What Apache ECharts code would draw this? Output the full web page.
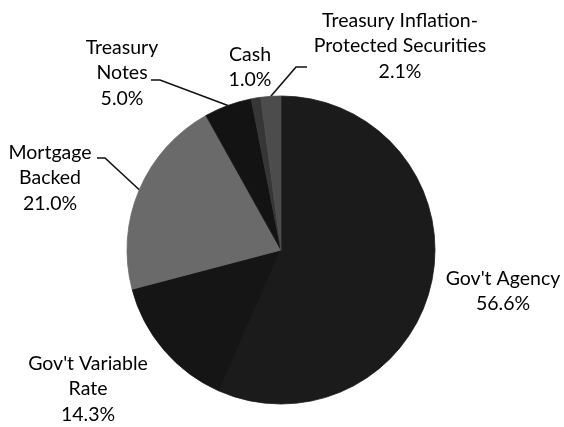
<!DOCTYPE html>
<html>
<head>
<meta charset="utf-8">
<script src="https://cdn.jsdelivr.net/npm/echarts@6/dist/echarts.min.js"></script>
<style>
  html, body { margin: 0; padding: 0; background: #fff; }
  #chart { width: 564px; height: 427px; }
</style>
</head>
<body>
<div id="chart"></div>
<script>
// Portfolio allocation by security type (percent of total)
const categories = [
  "Gov't Agency",
  "Gov't Variable\nRate",
  'Mortgage\nBacked',
  'Treasury\nNotes',
  'Cash',
  'Treasury Inflation-\nProtected Securities'
];
const shares = [56.6, 14.3, 21.0, 5.0, 1.0, 2.1];
const sliceColors = ['#1b1b1b', '#151515', '#6a6a6a', '#131313', '#363636', '#4c4c4c'];

// Label anchor (centre of the text block) and leader-line elbow for each slice
const labelSpots = [
  { x: 503, y: 291 },
  { x: 88,  y: 389 },
  { x: 50,  y: 178, elbow: [[105, 158], [97, 158]] },
  { x: 122, y: 73,  elbow: [[160, 80], [151, 80]] },
  { x: 250, y: 67 },
  { x: 400, y: 46,  elbow: [[296, 67], [307, 67]] }
];

const chart = echarts.init(document.getElementById('chart'), null, { renderer: 'canvas' });

chart.setOption({
  backgroundColor: '#ffffff',
  animation: false,
  series: [{
    type: 'pie',
    center: [281, 250],
    radius: 154,
    startAngle: 90,
    clockwise: true,
    avoidLabelOverlap: false,
    data: categories.map((name, i) => ({
      name: name,
      value: shares[i],
      itemStyle: { color: sliceColors[i], borderColor: sliceColors[i], borderWidth: 0.8 },
      labelLine: { show: !!labelSpots[i].elbow }
    })),
    label: {
      show: true,
      position: 'outside',
      formatter: p => p.name + '\n' + p.value.toFixed(1) + '%',
      fontFamily: 'Lato',
      fontSize: 19.5,
      lineHeight: 25.5,
      color: '#000',
      align: 'center'
    },
    labelLine: {
      show: true,
      lineStyle: { color: '#111', width: 1.6 }
    },
    labelLayout: function (params) {
      const spot = labelSpots[params.dataIndex];
      const out = {
        x: spot.x,
        y: spot.y,
        align: 'center',
        verticalAlign: 'middle'
      };
      if (spot.elbow && params.labelLinePoints) {
        const start = params.labelLinePoints[0];
        out.labelLinePoints = [start, spot.elbow[0], spot.elbow[1]];
      }
      return out;
    }
  }]
});
</script>
</body>
</html>
